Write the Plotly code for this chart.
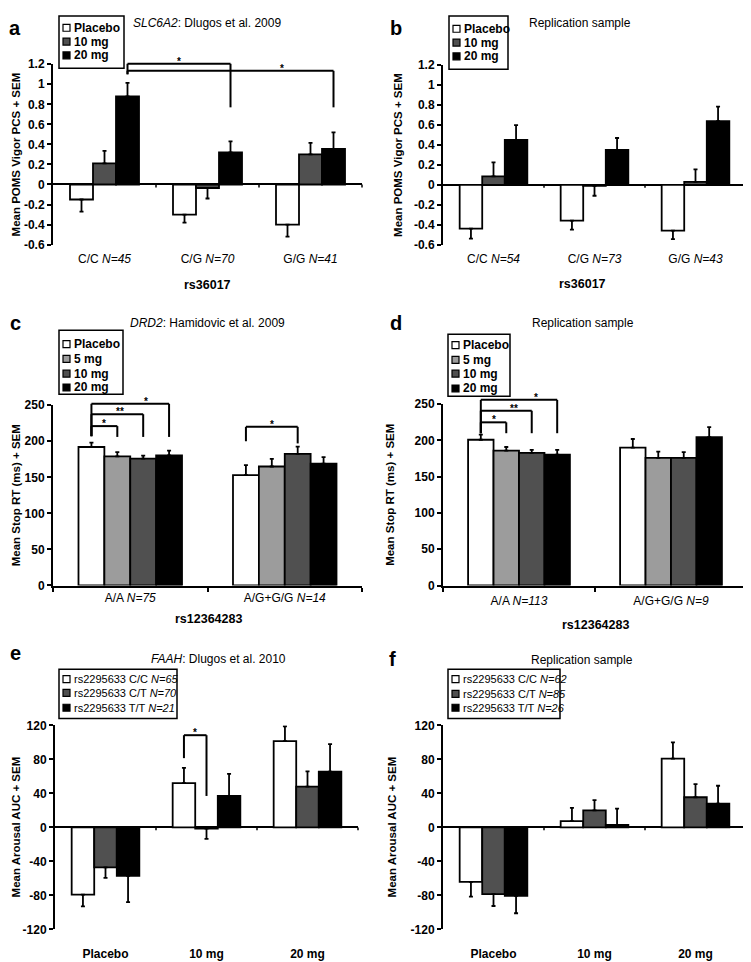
import plotly.graph_objects as go

# The page body keeps its default 8px margin, so the figure is sized to fill
# the remaining viewport and pixel positions are measured from the window edge.
VIEW_W, VIEW_H = 751, 962
OFF = 8
W, H = VIEW_W - OFF, VIEW_H - OFF
FONT = "Liberation Sans, Arial, Helvetica, sans-serif"
BARGAP = 0.33

WHITE, LGRAY, DGRAY, BLACK = "#ffffff", "#9c9c9c", "#505050", "#000000"

# ---------------- data ----------------
A_CATS = ["C/C <i>N=45</i>", "C/G <i>N=70</i>", "G/G <i>N=41</i>"]
AB_SERIES = ["Placebo", "10 mg", "20 mg"]
A_PLACEBO = [-0.15, -0.30, -0.40]
A_PLACEBO_SEM = [0.12, 0.08, 0.12]
A_10MG = [0.21, -0.035, 0.30]
A_10MG_SEM = [0.125, 0.105, 0.115]
A_20MG = [0.88, 0.32, 0.355]
A_20MG_SEM = [0.135, 0.11, 0.165]

B_CATS = ["C/C <i>N=54</i>", "C/G <i>N=73</i>", "G/G <i>N=43</i>"]
B_PLACEBO = [-0.44, -0.36, -0.46]
B_PLACEBO_SEM = [0.10, 0.09, 0.085]
B_10MG = [0.085, -0.01, 0.03]
B_10MG_SEM = [0.14, 0.10, 0.125]
B_20MG = [0.45, 0.35, 0.64]
B_20MG_SEM = [0.15, 0.12, 0.145]

C_CATS = ["A/A <i>N=75</i>", "A/G+G/G <i>N=14</i>"]
CD_SERIES = ["Placebo", "5 mg", "10 mg", "20 mg"]
C_PLACEBO = [192, 153]
C_PLACEBO_SEM = [6, 14]
C_5MG = [179, 165]
C_5MG_SEM = [6, 10.5]
C_10MG = [176, 182.5]
C_10MG_SEM = [4, 10]
C_20MG = [180.5, 169]
C_20MG_SEM = [6.5, 9]

D_CATS = ["A/A <i>N=113</i>", "A/G+G/G <i>N=9</i>"]
D_PLACEBO = [201, 190]
D_PLACEBO_SEM = [7, 12]
D_5MG = [186, 176]
D_5MG_SEM = [5, 8.5]
D_10MG = [183, 176]
D_10MG_SEM = [4, 8]
D_20MG = [180.5, 204.5]
D_20MG_SEM = [6.5, 14]

EF_CATS = ["Placebo", "10 mg", "20 mg"]
E_SERIES = ["rs2295633 C/C <i>N=65</i>", "rs2295633 C/T <i>N=70</i>", "rs2295633 T/T <i>N=21</i>"]
E_CC = [-79, 52, 101.5]
E_CC_SEM = [14, 18, 17.5]
E_CT = [-47, -1.5, 48]
E_CT_SEM = [12.5, 12, 18]
E_TT = [-57, 37, 65.5]
E_TT_SEM = [31, 26, 32.5]

F_SERIES = ["rs2295633 C/C <i>N=62</i>", "rs2295633 C/T <i>N=85</i>", "rs2295633 T/T <i>N=26</i>"]
F_CC = [-64, 7.5, 81]
F_CC_SEM = [17.5, 15.5, 19]
F_CT = [-78.5, 20, 35.5]
F_CT_SEM = [14, 12, 15.5]
F_TT = [-80.5, 3, 28]
F_TT_SEM = [20.5, 19, 21]

POMS_TICKS = [-0.6, -0.4, -0.2, 0, 0.2, 0.4, 0.6, 0.8, 1.0, 1.2]
POMS_TICKTEXT = ["-0.6", "-0.4", "-0.2", "0", "0.2", "0.4", "0.6", "0.8", "1", "1.2"]
RT_TICKS = [0, 50, 100, 150, 200, 250]
RT_TICKTEXT = ["0", "50", "100", "150", "200", "250"]
AUC_TICKS = [-120, -80, -40, 0, 40, 80, 120]
AUC_TICKTEXT = ["-120", "-80", "-40", "0", "40", "80", "120"]

# significance brackets: (group1, series1, group2, series2, top, bottom1, bottom2, label, label_frac)
A_BRACKETS = [(0, 2, 1, 2, 1.205, 1.10, 0.77, "*", 0.5),
              (0, 2, 2, 2, 1.135, 1.10, 0.77, "*", 0.75)]
C_BRACKETS = [(0, 0, 0, 1, 221, 207, 206, "*", 0.5),
              (0, 0, 0, 2, 237.5, 207, 206, "**", 0.55),
              (0, 0, 0, 3, 252, 207, 206, "*", 0.7),
              (1, 0, 1, 2, 220, 200, 197, "*", 0.5)]
D_BRACKETS = [(0, 0, 0, 1, 225, 210, 210, "*", 0.5),
              (0, 0, 0, 2, 241, 210, 210, "**", 0.65),
              (0, 0, 0, 3, 256, 210, 210, "*", 0.72)]
E_BRACKETS = [(1, 0, 1, 1, 108.5, 81.5, 37, "*", 0.5)]

# ---------------- panel layout (pixel boxes in the window) ----------------
PANELS = [
    dict(letter="a", letter_xy=(15, 21), title="<i>SLC6A2</i>: Dlugos et al. 2009", title_xy=(207, 16),
         box=(53, 58, 362, 241), cats=A_CATS, names=AB_SERIES,
         vals=[A_PLACEBO, A_10MG, A_20MG], sems=[A_PLACEBO_SEM, A_10MG_SEM, A_20MG_SEM],
         colors=[WHITE, DGRAY, BLACK], yrange=(-0.6, 1.2), yticks=POMS_TICKS, yticktext=POMS_TICKTEXT,
         ytitle="Mean POMS Vigor PCS + SEM", ytitle_x=16, xtitle="rs36017", xtitle_xy=(207, 282),
         zero_axis=True, catbold=False, standoff=5,
         legend_box=(59, 9, 124, 62), legend_rows=[21, 35, 49], legend_bold=True,
         brackets=A_BRACKETS),
    dict(letter="b", letter_xy=(396, 21), title="Replication sample", title_xy=(580, 16),
         box=(443, 59, 746, 241), cats=B_CATS, names=AB_SERIES,
         vals=[B_PLACEBO, B_10MG, B_20MG], sems=[B_PLACEBO_SEM, B_10MG_SEM, B_20MG_SEM],
         colors=[WHITE, DGRAY, BLACK], yrange=(-0.6, 1.2), yticks=POMS_TICKS, yticktext=POMS_TICKTEXT,
         ytitle="Mean POMS Vigor PCS + SEM", ytitle_x=398, xtitle="rs36017", xtitle_xy=(582, 281),
         zero_axis=True, catbold=False, standoff=5,
         legend_box=(449, 9, 508, 63), legend_rows=[22, 36, 50], legend_bold=True,
         brackets=[]),
    dict(letter="c", letter_xy=(15, 321), title="<i>DRD2</i>: Hamidovic et al. 2009", title_xy=(207, 321),
         box=(53, 404, 362, 587), cats=C_CATS, names=CD_SERIES,
         vals=[C_PLACEBO, C_5MG, C_10MG, C_20MG], sems=[C_PLACEBO_SEM, C_5MG_SEM, C_10MG_SEM, C_20MG_SEM],
         colors=[WHITE, LGRAY, DGRAY, BLACK], yrange=(0, 250), yticks=RT_TICKS, yticktext=RT_TICKTEXT,
         ytitle="Mean Stop RT (ms) + SEM", ytitle_x=16, xtitle="rs12364283", xtitle_xy=(208, 621),
         zero_axis=False, catbold=False, standoff=0,
         legend_box=(59, 328, 123, 393), legend_rows=[342, 357, 372, 386], legend_bold=True,
         brackets=C_BRACKETS),
    dict(letter="d", letter_xy=(396, 321), title="Replication sample", title_xy=(583, 321),
         box=(443, 403, 747, 587), cats=D_CATS, names=CD_SERIES,
         vals=[D_PLACEBO, D_5MG, D_10MG, D_20MG], sems=[D_PLACEBO_SEM, D_5MG_SEM, D_10MG_SEM, D_20MG_SEM],
         colors=[WHITE, LGRAY, DGRAY, BLACK], yrange=(0, 250), yticks=RT_TICKS, yticktext=RT_TICKTEXT,
         ytitle="Mean Stop RT (ms) + SEM", ytitle_x=390, xtitle="rs12364283", xtitle_xy=(595, 627),
         zero_axis=False, catbold=False, standoff=3,
         legend_box=(448, 332, 510, 395), legend_rows=[343, 358, 372, 387], legend_bold=True,
         brackets=D_BRACKETS),
    dict(letter="e", letter_xy=(15, 656), title="<i>FAAH</i>: Dlugos et al. 2010", title_xy=(218, 662),
         box=(55, 729, 358, 936), cats=EF_CATS, names=E_SERIES,
         vals=[E_CC, E_CT, E_TT], sems=[E_CC_SEM, E_CT_SEM, E_TT_SEM],
         colors=[WHITE, DGRAY, BLACK], yrange=(-120, 120), yticks=AUC_TICKS, yticktext=AUC_TICKTEXT,
         ytitle="Mean Arousal AUC + SEM", ytitle_x=16, xtitle=None, xtitle_xy=None,
         zero_axis=True, catbold=True, standoff=16,
         legend_box=(59, 672, 177, 722), legend_rows=[682, 696, 711], legend_bold=False,
         brackets=E_BRACKETS),
    dict(letter="f", letter_xy=(392, 662), title="Replication sample", title_xy=(582, 663),
         box=(443, 729, 746, 936), cats=EF_CATS, names=F_SERIES,
         vals=[F_CC, F_CT, F_TT], sems=[F_CC_SEM, F_CT_SEM, F_TT_SEM],
         colors=[WHITE, DGRAY, BLACK], yrange=(-120, 120), yticks=AUC_TICKS, yticktext=AUC_TICKTEXT,
         ytitle="Mean Arousal AUC + SEM", ytitle_x=392, xtitle=None, xtitle_xy=None,
         zero_axis=True, catbold=True, standoff=16,
         legend_box=(448, 672, 560, 722), legend_rows=[682, 697, 711], legend_bold=False,
         brackets=[]),
]


def xp(px):
    return (px - OFF) / W


def yp(py):
    return 1 - (py - OFF) / H


def bar_px(p, g, s):
    n = len(p["names"])
    G = len(p["cats"])
    w = (1 - BARGAP) / n
    xd = g + (s - (n - 1) / 2) * w
    x0, _, x1, _ = p["box"]
    return x0 + (xd + 0.5) / G * (x1 - x0)


def val_py(p, v):
    _, y0, _, y1 = p["box"]
    r0, r1 = p["yrange"]
    return y1 - (v - r0) / (r1 - r0) * (y1 - y0)


fig = go.Figure()
shapes = []
annotations = []
layout = {}


def seg(xa, ya, xb, yb, width=2):
    shapes.append(dict(type="line", xref="paper", yref="paper",
                       x0=xp(xa), y0=yp(ya), x1=xp(xb), y1=yp(yb),
                       line=dict(color="black", width=width)))


def text(x, y, s, size=11, bold=False, xanchor="center", yanchor="middle", angle=0):
    annotations.append(dict(x=xp(x), y=yp(y), xref="paper", yref="paper", text=s,
                            showarrow=False, xanchor=xanchor, yanchor=yanchor, textangle=angle,
                            borderpad=0,
                            font=dict(family=FONT, size=size, color="black",
                                      weight="bold" if bold else "normal")))


for i, p in enumerate(PANELS, start=1):
    sfx = "" if i == 1 else str(i)
    xa, ya = "x" + sfx, "y" + sfx
    for name, v, s, c in zip(p["names"], p["vals"], p["sems"], p["colors"]):
        fig.add_trace(go.Bar(
            x=p["cats"], y=v, name=name, showlegend=False, xaxis=xa, yaxis=ya,
            marker=dict(color=c, line=dict(color="black", width=1.8)),
            error_y=dict(type="data", symmetric=False,
                         array=[e if val >= 0 else 0 for val, e in zip(v, s)],
                         arrayminus=[e if val < 0 else 0 for val, e in zip(v, s)],
                         color="black", thickness=1.8, width=2),
        ))
    x0, y0, x1, y1 = p["box"]
    G = len(p["cats"])
    layout["xaxis" + sfx] = dict(
        domain=[xp(x0), xp(x1)], anchor=ya, type="category", range=[-0.5, G - 0.5],
        showline=not p["zero_axis"], linecolor="black", linewidth=2,
        ticks="" if p["zero_axis"] else "outside", tickson="boundaries",
        ticklen=4, tickwidth=1.5, tickcolor="black",
        showgrid=False, zeroline=False, ticklabelstandoff=p["standoff"],
        tickfont=dict(family=FONT, size=12, color="black",
                      weight="bold" if p["catbold"] else "normal"),
        fixedrange=True,
    )
    layout["yaxis" + sfx] = dict(
        domain=[yp(y1), yp(y0)], anchor=xa, range=list(p["yrange"]),
        tickmode="array", tickvals=p["yticks"], ticktext=p["yticktext"],
        showline=True, linecolor="black", linewidth=2, ticks="outside", ticklen=4,
        tickwidth=1.5, tickcolor="black", showgrid=False,
        zeroline=p["zero_axis"], zerolinecolor="black", zerolinewidth=2,
        tickfont=dict(family=FONT, size=12, color="black", weight="bold"),
        fixedrange=True,
    )
    # small boundary ticks on the zero line
    if p["zero_axis"]:
        zy = val_py(p, 0)
        for g in range(G):
            bx = x0 + (g + 1) / G * (x1 - x0)
            seg(bx, zy, bx, zy + 3, width=1.5)
    # texts
    text(p["letter_xy"][0], p["letter_xy"][1], p["letter"], size=20, bold=True)
    text(p["title_xy"][0], p["title_xy"][1], p["title"], size=12)
    text(p["ytitle_x"], (y0 + y1) / 2, p["ytitle"], size=11.5, bold=True, angle=-90)
    if p["xtitle"]:
        text(p["xtitle_xy"][0], p["xtitle_xy"][1], p["xtitle"], size=12.5, bold=True)
    # legend
    lx0, ly0, lx1, ly1 = p["legend_box"]
    shapes.append(dict(type="rect", xref="paper", yref="paper",
                       x0=xp(lx0), y0=yp(ly1), x1=xp(lx1), y1=yp(ly0),
                       line=dict(color="black", width=1.5), fillcolor="white"))
    for name, c, ry in zip(p["names"], p["colors"], p["legend_rows"]):
        shapes.append(dict(type="rect", xref="paper", yref="paper",
                           x0=xp(lx0 + 4), y0=yp(ry + 3.5), x1=xp(lx0 + 11), y1=yp(ry - 3.5),
                           line=dict(color="black", width=1.2), fillcolor=c))
        text(lx0 + 14, ry, name, size=12 if p["legend_bold"] else 11,
             bold=p["legend_bold"], xanchor="left")
    # significance brackets
    for g1, s1, g2, s2, top, b1, b2, lab, frac in p["brackets"]:
        xl, xr = bar_px(p, g1, s1), bar_px(p, g2, s2)
        ty = val_py(p, top)
        seg(xl, val_py(p, b1), xl, ty)
        seg(xl, ty, xr, ty)
        seg(xr, ty, xr, val_py(p, b2))
        text(xl + frac * (xr - xl), ty + 4, lab, size=10, bold=True, yanchor="bottom")

layout.update(
    width=W, height=H, margin=dict(l=0, r=0, t=0, b=0),
    paper_bgcolor="white", plot_bgcolor="white",
    barmode="group", bargap=BARGAP, bargroupgap=0,
    showlegend=False, shapes=shapes, annotations=annotations,
    font=dict(family=FONT, size=11, color="black"),
)
fig.update_layout(**layout)
fig.write_html("out.html")
